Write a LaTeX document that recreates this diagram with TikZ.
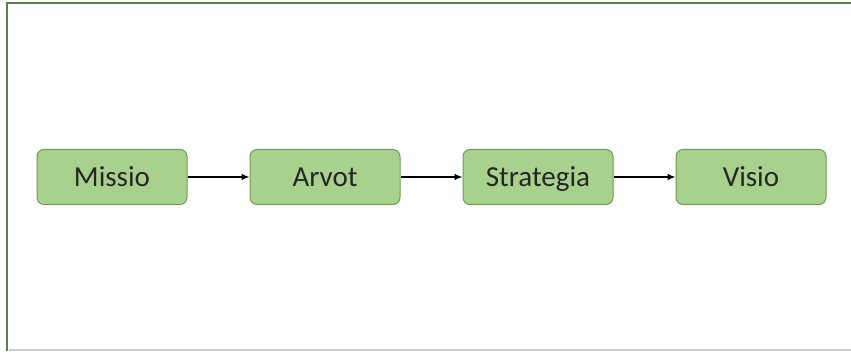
\documentclass[tikz,border=0pt]{standalone}
\usepackage{fontspec}
\setmainfont{Carlito}
\usetikzlibrary{arrows.meta,positioning}
\definecolor{boxfill}{HTML}{A9D18E}
\definecolor{boxline}{HTML}{6D9E4C}
\definecolor{frameline}{HTML}{5E7D4C}

\begin{document}
\begin{tikzpicture}[>={Latex[length=8pt,width=6.5pt]}, x=1pt, y=1pt,
  stage/.style={draw=boxline, fill=boxfill, line width=1pt, rounded corners=7pt,
    minimum width=150pt, minimum height=55pt, text=black!85,
    text height=22pt, text depth=2pt,
    font=\fontsize{29}{32}\selectfont},
  node distance=62pt]
  \useasboundingbox (0,0) rectangle (851,351);
  % frame
  \draw[line width=2.5pt, frameline] (7,0) -- (7,348) -- (851,348);
  \draw[black!20, line width=1.5pt] (8.5,1) -- (851,1);
  % stages
  \node[stage] (missio) at (112,174) {Missio};
  \node[stage, right=of missio] (arvot) {Arvot};
  \node[stage, right=of arvot] (strategia) {Strategia};
  \node[stage, right=of strategia] (visio) {Visio};
  \draw[->, line width=1.2pt] (missio) -- (arvot);
  \draw[->, line width=1.2pt] (arvot) -- (strategia);
  \draw[->, line width=1.2pt] (strategia) -- (visio);
\end{tikzpicture}
\end{document}
